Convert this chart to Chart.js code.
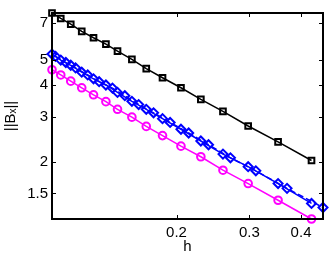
<!DOCTYPE html>
<html>
<head>
<meta charset="utf-8">
<script src="https://cdn.jsdelivr.net/npm/chart.js@4"></script>
<style>
  html, body { margin: 0; padding: 0; background: #fff; }
  #wrap { width: 332px; height: 256px; }
</style>
</head>
<body>
<div id="wrap"><canvas id="c"></canvas></div>
<script>
// mesh sizes
const hMain = [0.100, 0.105, 0.111, 0.118, 0.126, 0.135, 0.144, 0.156, 0.169, 0.185, 0.205, 0.229, 0.259, 0.298, 0.352, 0.424];
const hDash = [0.102, 0.108, 0.114, 0.122, 0.130, 0.140, 0.150, 0.162, 0.176, 0.193, 0.214, 0.239, 0.270, 0.311, 0.370, 0.452];

// ||B_x|| per series
const normSquare  = [7.67, 7.30, 6.93, 6.50, 6.13, 5.79, 5.43, 5.04, 4.64, 4.27, 3.90, 3.51, 3.15, 2.76, 2.39, 2.02];
const normDiamond = [5.29, 5.01, 4.78, 4.49, 4.23, 4.00, 3.74, 3.45, 3.21, 2.95, 2.68, 2.41, 2.14, 1.91, 1.64, 1.37];
const normDiamondDash = [5.18, 4.90, 4.67, 4.38, 4.12, 3.89, 3.63, 3.35, 3.11, 2.85, 2.59, 2.33, 2.07, 1.84, 1.57, 1.32];
const normCircle  = [4.59, 4.38, 4.14, 3.90, 3.66, 3.44, 3.21, 2.99, 2.75, 2.53, 2.30, 2.09, 1.85, 1.64, 1.41, 1.19];

const xTicks = [0.2, 0.3, 0.4];
const yTicks = [1.5, 2, 3, 4, 5, 7];

const font = { family: "'Liberation Sans', Arial, 'DejaVu Sans', sans-serif", size: 15 };

function pts(xs, ys) {
  return xs.map((x, i) => ({ x: x, y: ys[i] }));
}

// matlab style box with ticks pointing inwards
const frameTicks = {
  id: 'frameTicks',
  afterDatasetsDraw(chart) {
    const ctx = chart.ctx;
    const a = chart.chartArea;
    const sx = chart.scales.x, sy = chart.scales.y;
    const len = 4;
    ctx.save();
    ctx.strokeStyle = '#000';
    ctx.lineWidth = 1;
    ctx.beginPath();
    xTicks.forEach(v => {
      const px = Math.round(sx.getPixelForValue(v)) + 0.5;
      ctx.moveTo(px, a.bottom); ctx.lineTo(px, a.bottom - len);
      ctx.moveTo(px, a.top); ctx.lineTo(px, a.top + len);
    });
    yTicks.forEach(v => {
      const py = Math.round(sy.getPixelForValue(v)) + 0.5;
      ctx.moveTo(a.left, py); ctx.lineTo(a.left + len, py);
      ctx.moveTo(a.right, py); ctx.lineTo(a.right - len, py);
    });
    ctx.stroke();
    ctx.lineWidth = 2;
    ctx.strokeRect(a.left, a.top, a.right - a.left, a.bottom - a.top);
    ctx.restore();
  }
};

function series(data, color, style, radius, dash) {
  return {
    data: data,
    borderColor: color,
    backgroundColor: 'rgba(0,0,0,0)',
    borderWidth: 1.5,
    borderDash: dash || [],
    pointStyle: style,
    pointRadius: radius,
    pointBorderColor: color,
    pointBackgroundColor: 'rgba(0,0,0,0)',
    pointBorderWidth: 2,
    fill: false,
    tension: 0,
    clip: false
  };
}

new Chart(document.getElementById('c'), {
  type: 'line',
  data: {
    datasets: [
      series(pts(hMain, normSquare), '#000000', 'rect', 4),
      series(pts(hDash, normDiamondDash), '#0000ff', 'rectRot', 4.5, [6, 3]),
      series(pts(hMain, normDiamond), '#0000ff', 'rectRot', 4.5),
      series(pts(hMain, normCircle), '#ff00ff', 'circle', 3.8)
    ]
  },
  options: {
    responsive: true,
    maintainAspectRatio: false,
    animation: false,
    layout: { padding: { top: 5, right: 9, left: 0, bottom: 0 } },
    plugins: { legend: { display: false }, tooltip: { enabled: false } },
    scales: {
      x: {
        type: 'logarithmic',
        min: 0.1,
        max: 0.452,
        afterBuildTicks: s => { s.ticks = xTicks.map(v => ({ value: v })); },
        afterFit: s => { s.height = 37; },
        ticks: { callback: v => String(v), font: font, color: '#000', padding: 5, maxRotation: 0, autoSkip: false },
        grid: { display: false, drawTicks: false },
        border: { display: false },
        title: { display: true, text: 'h', font: font, color: '#000', padding: 0 }
      },
      y: {
        type: 'logarithmic',
        min: 1.19,
        max: 7.67,
        afterBuildTicks: s => { s.ticks = yTicks.map(v => ({ value: v })); },
        afterFit: s => { s.width = 52; },
        ticks: { callback: v => String(v), font: font, color: '#000', padding: 4, autoSkip: false },
        grid: { display: false, drawTicks: false },
        border: { display: false },
        title: { display: true, text: '||B\u2093||', font: font, color: '#000', padding: { top: 2, bottom: 0 } }
      }
    }
  },
  plugins: [frameTicks]
});
</script>
</body>
</html>
